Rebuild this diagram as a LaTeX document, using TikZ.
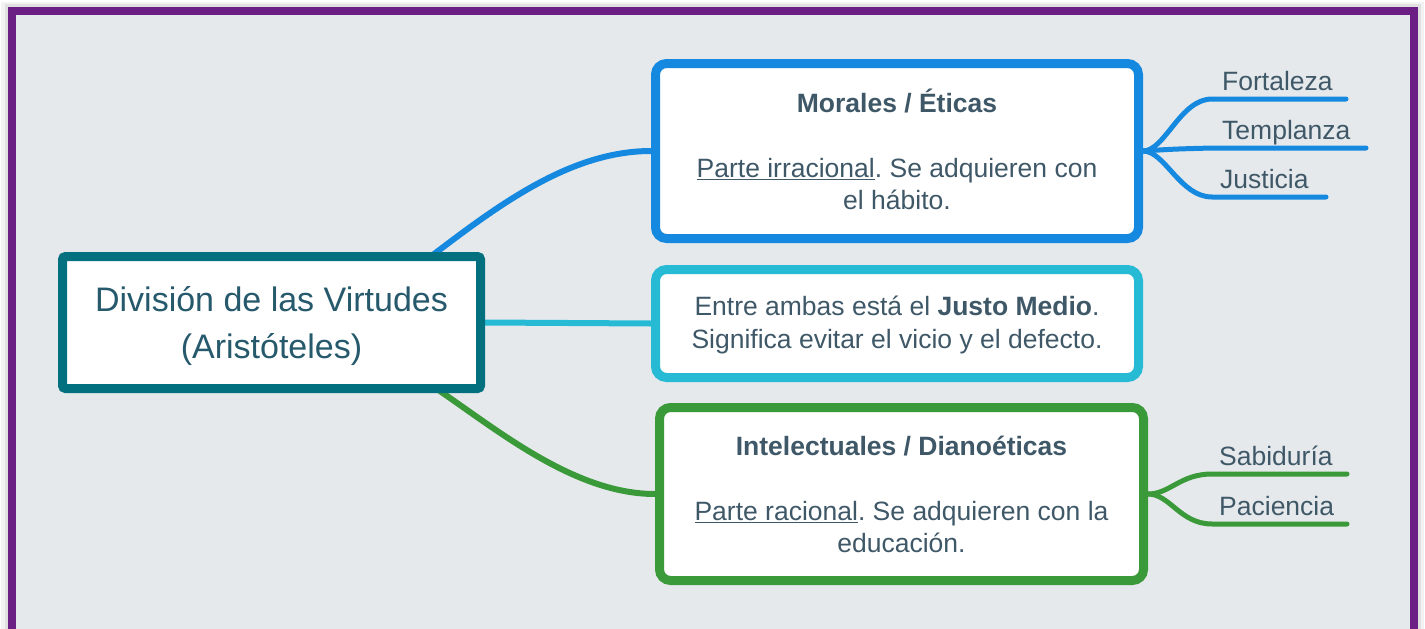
\documentclass[tikz,border=0pt]{standalone}
\usepackage{fontspec}
\setmainfont{Liberation Sans}
\usepackage{xcolor}
\usepackage{tikz}
\usetikzlibrary{backgrounds,calc}

\definecolor{virtuepurple}{HTML}{6B1F84}
\definecolor{paper}{HTML}{E6E9EC}
\definecolor{topicteal}{HTML}{03707F}
\definecolor{moralblue}{HTML}{1589DF}
\definecolor{mediocyan}{HTML}{27BAD5}
\definecolor{intelgreen}{HTML}{3A9939}
\definecolor{titleink}{HTML}{25596B}
\definecolor{boxink}{HTML}{3F5868}
\frenchspacing

\begin{document}
\begin{tikzpicture}[x=1pt,y=-1pt]
  \tikzstyle{topic} = [draw=topicteal,fill=white,line width=9pt,rounded corners=3pt,minimum width=418pt,minimum height=132pt,text=titleink,align=center,font=\fontsize{34}{47}\selectfont]
  \tikzstyle{branch} = [fill=white,line width=9pt,rounded corners=11pt,minimum width=483pt,text=boxink,align=center,font=\fontsize{26.5}{32}\selectfont]
  \tikzstyle{link} = [line width=6pt]
  \tikzstyle{twig} = [line width=5pt,line cap=round]
  \tikzstyle{leaf} = [text=boxink,font=\fontsize{26.5}{32}\selectfont,inner sep=0pt,anchor=base west]
  %
  \useasboundingbox (0,0) rectangle (1425,629);

  % Central topic.
  \node[topic,text depth=0pt] (centre) at (271.5,322.5) {División de las Virtudes\\(Aristóteles)};

  % Three main boxes.
  \node[branch,draw=moralblue,minimum height=175pt,text depth=3pt] (moral) at (897,151)
    {\textbf{Morales / Éticas}\\[33pt]\underline{Parte irracional}. Se adquieren con\\el hábito.};
  \node[branch,draw=mediocyan,minimum height=108pt,text depth=2pt] (medio) at (897,323.5)
    {Entre ambas está el \textbf{Justo Medio}.\\[1pt]Significa evitar el vicio y el defecto.};
  \node[branch,draw=intelgreen,minimum height=173pt,minimum width=484pt,text depth=0pt] (intel) at (901.5,494)
    {\textbf{Intelectuales / Dianoéticas}\\[33pt]\underline{Parte racional}. Se adquieren con la\\educación.};

  % Leaves.
  \node[leaf] (fort) at (1222,90) {Fortaleza};
  \node[leaf] (temp) at (1222,139) {Templanza};
  \node[leaf] (just) at (1220,188) {Justicia};
  \node[leaf] (sabi) at (1219,465) {Sabiduría};
  \node[leaf] (paci) at (1219,515) {Paciencia};
  \coordinate (fortend) at (1346,99);
  \coordinate (tempend) at (1366,148);
  \coordinate (justend) at (1326,197);
  \coordinate (sabiend) at (1347,474);
  \coordinate (paciend) at (1347,524);

  \begin{pgfonlayer}{background}
      % Shadow and frame.
      \fill[black!5] (1,2) rectangle (1424,640);
      \fill[black!12] (5,4) rectangle (1421,640);
      \draw[virtuepurple,line width=8pt,fill=paper] (12,11) rectangle (1414,633);
      % Draw links.
      \draw[link,moralblue] ($(centre.north east)+(-80,24)$) .. controls (480,220) and (560,151) .. (moral.west);
      \draw[link,mediocyan] (centre.east) -- (medio.west);
      \draw[link,intelgreen] ($(centre.south east)+(-80,-24)$) .. controls (470,405) and (560,494) .. (intel.west);
      % Draw twigs.
      \draw[twig,moralblue] (moral.east) .. controls (1165,151) and (1180,99) .. (1212,99) -- (fortend);
      \draw[twig,moralblue] (moral.east) .. controls (1175,149) .. (1212,148) -- (tempend);
      \draw[twig,moralblue] (moral.east) .. controls (1165,151) and (1180,197) .. (1212,197) -- (justend);
      \draw[twig,intelgreen] (intel.east) .. controls (1170,494) and (1180,474) .. (1212,474) -- (sabiend);
      \draw[twig,intelgreen] (intel.east) .. controls (1170,494) and (1180,524) .. (1212,524) -- (paciend);
  \end{pgfonlayer}
  %
\end{tikzpicture}
\end{document}
